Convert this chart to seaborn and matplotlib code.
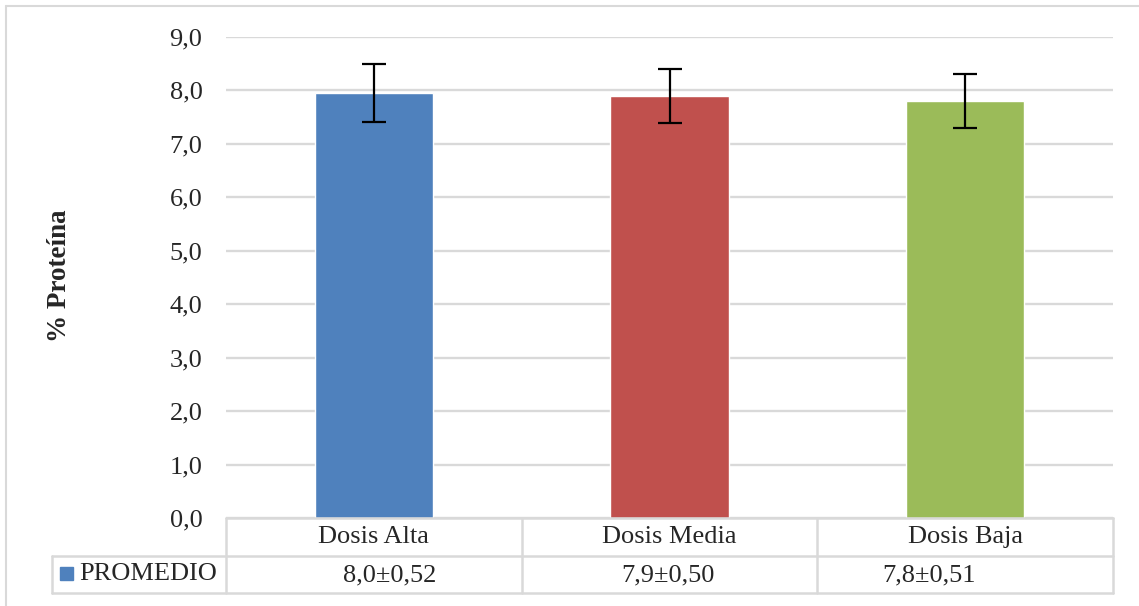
import matplotlib
matplotlib.use("Agg")
import matplotlib.pyplot as plt
import seaborn as sns
from matplotlib.lines import Line2D
from matplotlib.patches import Rectangle

# ---- data ----
categories = ["Dosis Alta", "Dosis Media", "Dosis Baja"]
means = [7.95, 7.90, 7.80]
errors = [0.54, 0.50, 0.51]
table_values = ["8,0±0,52", "7,9±0,50", "7,8±0,51"]
series_name = "PROMEDIO"
y_label = "% Proteína"
y_ticks = [0, 1, 2, 3, 4, 5, 6, 7, 8, 9]
colors = ["#4F81BD", "#C0504D", "#9BBB59"]

sns.set_style("white")
plt.rcParams["font.family"] = ["Liberation Serif", "DejaVu Serif"]

W, H = 1139, 606
fig = plt.figure(figsize=(W / 100, H / 100), dpi=100)
FS = 19

def fx(px):
    return px / W

def fy(py):
    return 1 - py / H

L, R, T, B = 226, 1113, 37, 518
ax = fig.add_axes([fx(L), fy(B), fx(R) - fx(L), (B - T) / H])

sns.barplot(x=categories, y=means, hue=categories, palette=colors,
            width=0.40, saturation=1, legend=False, ax=ax, zorder=3)
ax.errorbar(x=list(range(len(categories))), y=means, yerr=errors, fmt="none",
            ecolor="black", elinewidth=1.6, capsize=8.5, capthick=1.6, zorder=4)

ax.set_xlim(-0.5, len(categories) - 0.5)
ax.set_ylim(0, 9)
ax.set_yticks(y_ticks)
ax.set_yticklabels([f"{v:.1f}".replace(".", ",") for v in y_ticks], fontsize=FS)
ax.set_xticks([])
ax.set_xlabel("")
ax.tick_params(axis="y", length=0, pad=17)
ax.yaxis.grid(True, color="#D9D9D9", linewidth=1.7, zorder=0)
ax.set_axisbelow(True)
for s in ax.spines.values():
    s.set_visible(False)

fig.text(fx(59), fy(276), y_label, rotation=90, ha="center", va="center",
         fontsize=FS + 0.5, fontweight="bold")

# ---- data table below ----
gc = "#D9D9D9"
lw = 1.8
def hline(x0, x1, y):
    fig.add_artist(Line2D([fx(x0), fx(x1)], [fy(y), fy(y)], color=gc, lw=lw))
def vline(x, y0, y1):
    fig.add_artist(Line2D([fx(x), fx(x)], [fy(y0), fy(y1)], color=gc, lw=lw))

r0, r1, r2 = 518, 556, 593
leg_left = 52
colw = (R - L) / len(categories)
hline(L, R, r0)
hline(leg_left, R, r1)
hline(leg_left, R, r2)
vline(leg_left, r1, r2)
for i in range(len(categories) + 1):
    vline(L + i * colw, r0, r2)

val_offsets = [16, -2, -36]
for i, (cat, val) in enumerate(zip(categories, table_values)):
    cx = L + (i + 0.5) * colw
    fig.text(fx(cx), fy((r0 + r1) / 2), cat, ha="center", va="center", fontsize=FS)
    fig.text(fx(cx + val_offsets[i]), fy((r1 + r2) / 2 + 1), val, ha="center",
             va="center", fontsize=FS)

fig.add_artist(Rectangle((fx(60), fy(580)), fx(73) - fx(60), fy(567) - fy(580),
                         color=colors[0], transform=fig.transFigure))
fig.text(fx(79), fy((r1 + r2) / 2), series_name, ha="left", va="center", fontsize=FS)

# outer chart border
fig.add_artist(Line2D([fx(6), fx(W)], [fy(6), fy(6)], color=gc, lw=1.5))
fig.add_artist(Line2D([fx(6), fx(6)], [fy(6), fy(H)], color=gc, lw=1.5))

fig.savefig("out.png", dpi=100, facecolor="white")
